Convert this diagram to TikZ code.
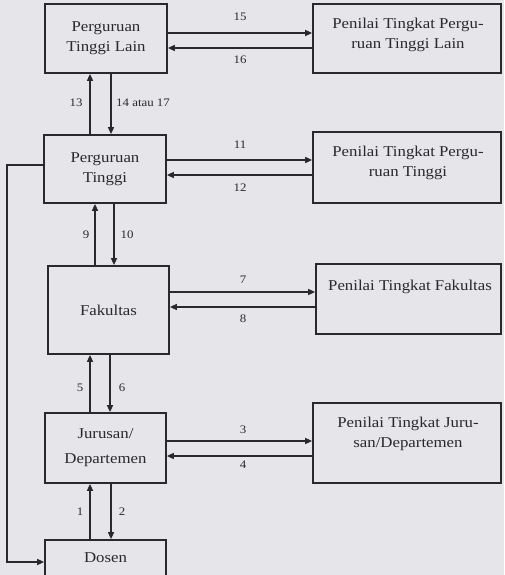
\documentclass[tikz,border=0pt]{standalone}
\usepackage{fontspec}
\setmainfont{Liberation Serif}[FakeStretch=1.12]
\usetikzlibrary{arrows.meta}
\definecolor{bg}{RGB}{229,229,234}
\definecolor{ink}{RGB}{40,40,45}
\begin{document}
\begin{tikzpicture}[x=1pt,y=-1pt,
 box/.style={draw=ink, line width=1.7pt, rectangle, inner sep=0pt, align=center, font=\fontsize{15}{20}\selectfont, text=ink},
 txt/.style={align=center, font=\fontsize{15}{20}\selectfont, text=ink, inner sep=0pt},
 lbl/.style={font=\fontsize{11.5}{13}\selectfont, text=ink, inner sep=1pt},
 arr/.style={draw=ink, line width=1.4pt, -{Triangle[length=7pt,width=6pt]}}]
\fill[bg] (0,0) rectangle (504,575);
\useasboundingbox (0,0) rectangle (504,575);
% left column
\node[box, minimum width=122pt, minimum height=69pt] (b1) at (106,38.5) {Perguruan\\Tinggi Lain};
\node[box, minimum width=122pt, minimum height=68pt] (b2) at (105,169) {Perguruan\\Tinggi};
\node[box, minimum width=121pt, minimum height=88pt] (b3) at (108.5,310) {Fakultas};
\node[box, minimum width=121pt, minimum height=70pt, font=\fontsize{15}{25}\selectfont] (b4) at (105.5,448) {Jurusan/\\Departemen};
\node[box, minimum width=121pt, minimum height=40pt] (b5) at (105.5,560) {};
\node[txt] (t5) at (105.5,558) {Dosen};
% right column
\node[box, minimum width=188pt, minimum height=69pt] (r1) at (407,38.5) {};
\node[txt] (s1) at (408,35) {Penilai Tingkat Pergu-\\ruan Tinggi Lain};
\node[box, minimum width=188pt, minimum height=71pt] (r2) at (407,167.5) {};
\node[txt] (s2) at (408,163) {Penilai Tingkat Pergu-\\ruan Tinggi};
\node[box, minimum width=185pt, minimum height=70pt] (r3) at (408.5,299) {};
\node[txt] (s3) at (410,287) {Penilai Tingkat Fakultas};
\node[box, minimum width=188pt, minimum height=80pt] (r4) at (407,443) {};
\node[txt] (s4) at (408,434) {Penilai Tingkat Juru-\\san/Departemen};
% horizontal arrows
\draw[arr] (b1.east |- 0,33) -- (r1.west |- 0,33);
\draw[arr] (r1.west |- 0,48) -- (b1.east |- 0,48);
\draw[arr] (b2.east |- 0,160) -- (r2.west |- 0,160);
\draw[arr] (r2.west |- 0,175) -- (b2.east |- 0,175);
\draw[arr] (b3.east |- 0,292) -- (r3.west |- 0,292);
\draw[arr] (r3.west |- 0,307) -- (b3.east |- 0,307);
\draw[arr] (b4.east |- 0,441) -- (r4.west |- 0,441);
\draw[arr] (r4.west |- 0,456) -- (b4.east |- 0,456);
% vertical arrows
\draw[arr] (b2.north -| 90,0) -- (b1.south -| 90,0);
\draw[arr] (b1.south -| 111,0) -- (b2.north -| 111,0);
\draw[arr] (b3.north -| 95,0) -- (b2.south -| 95,0);
\draw[arr] (b2.south -| 114,0) -- (b3.north -| 114,0);
\draw[arr] (b4.north -| 90,0) -- (b3.south -| 90,0);
\draw[arr] (b3.south -| 110,0) -- (b4.north -| 110,0);
\draw[arr] (b5.north -| 90,0) -- (b4.south -| 90,0);
\draw[arr] (b4.south -| 111,0) -- (b5.north -| 111,0);
% feedback line
\draw[arr] (b2.west |- 0,165) -- (7,165) |- (b5.west |- 0,562);
% labels
\node[lbl] (l15) at (240,17) {15};
\node[lbl] (l16) at (240,60) {16};
\node[lbl] (l13) at (76,103) {13};
\node[lbl, anchor=west] (l14) at (115,103) {14 atau 17};
\node[lbl] (l11) at (240,145) {11};
\node[lbl] (l12) at (240,188) {12};
\node[lbl] (l9) at (86,235) {9};
\node[lbl] (l10) at (127,235) {10};
\node[lbl] (l7) at (243,280) {7};
\node[lbl] (l8) at (243,319) {8};
\node[lbl] (l5) at (80,388) {5};
\node[lbl] (l6) at (122,388) {6};
\node[lbl] (l3) at (243,430) {3};
\node[lbl] (l4) at (243,465) {4};
\node[lbl] (l1) at (80,512) {1};
\node[lbl] (l2) at (122,512) {2};
\end{tikzpicture}
\end{document}
